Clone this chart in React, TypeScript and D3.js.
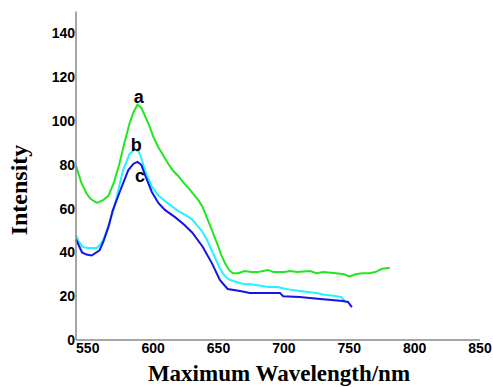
import React from "react";
import * as d3 from "d3";

const xTicks = [550, 600, 650, 700, 750, 800, 850];
const yTicks = [0, 20, 40, 60, 80, 100, 120, 140];

const seriesA: [number, number][] = [
  [541, 79.5], [545, 72], [549, 67], [552, 64.5], [557, 62.6], [562, 64], [566, 66], [570, 72],
  [574, 80], [578, 90], [582, 99], [585, 104], [588, 107.5], [591, 106], [594, 102], [597, 98],
  [600, 93], [604, 88], [608, 84], [612, 80], [615, 77.5], [619, 75], [623, 72], [627, 69.5],
  [631, 66.5], [635, 63.5], [638, 60.5], [641, 56], [644, 51.6], [647, 47], [649, 44], [652, 39],
  [655, 35], [658, 32], [661, 30.5], [665, 30.5], [670, 31.5], [675, 31], [680, 31], [684, 31.5],
  [688, 32], [692, 31], [700, 31], [705, 31.5], [710, 31], [720, 31.5], [725, 30.5], [730, 31],
  [740, 30.5], [746, 30], [750, 29], [755, 30], [760, 30.5], [765, 30.5], [770, 31], [775, 32.5],
  [781, 33],
];

const seriesB: [number, number][] = [
  [541, 48], [543, 45], [546, 42.5], [550, 42], [554, 42], [557, 42], [560, 44], [562, 46],
  [565.5, 51.6], [569, 58], [572, 65], [577, 77.6], [582, 85], [586, 87], [589, 86], [591, 83],
  [594, 77], [599, 70], [604, 66], [611, 62.6], [619, 59], [625, 57], [630, 55], [634, 52],
  [637, 50], [641, 46], [644, 42], [647, 38], [650, 34], [653, 30.6],
  [656, 28.5], [659, 27.4], [664, 26.5], [669, 25.6], [675, 25.5], [680, 25], [688, 24.2],
  [695, 24.2], [700, 23.5], [705, 23], [712, 22.4], [720, 21.8], [725, 21.5], [730, 20.8],
  [738, 20.2], [744, 19.6], [747, 17.4],
];

const seriesC: [number, number][] = [
  [541, 46], [545.6, 40], [549, 39], [553, 38.6], [559, 41], [562, 45], [566, 52], [569, 59],
  [575, 68.5], [581, 77.6], [585, 80.5], [588, 81.3], [591, 80], [594, 75], [599, 67.6],
  [604, 62.6], [609, 59.4], [617, 56], [624, 52.5], [630, 49],
  [638, 42.5], [645, 35], [651, 27.4], [657, 23.3], [666.5, 22.4], [674, 21.5], [690, 21.5],
  [697, 21.5], [699.4, 20], [712, 19.6], [728, 18.7], [745, 17.8], [749, 17.4], [752, 15],
];

const labels = [
  { text: "a", wl: 589, val: 111 },
  { text: "b", wl: 587, val: 89 },
  { text: "c", wl: 590, val: 75 },
];

export default function App() {
  const W = 493, H = 387;
  const x = d3.scaleLinear().domain([541, 850]).range([76, 480]);
  const y = d3.scaleLinear().domain([0, 150]).range([340, 11.5]);
  const line = d3.line<[number, number]>().x(d => x(d[0])).y(d => y(d[1]));
  const tickFont = "'Liberation Sans', Arial, sans-serif";
  const titleFont = "'Liberation Serif', 'Times New Roman', serif";
  return (
    <svg width={W} height={H} style={{ position: "absolute", left: 0, top: 0, background: "#fff" }}>
      <path d={line(seriesA) || ""} fill="none" stroke="#22e622" strokeWidth={2} />
      <path d={line(seriesB) || ""} fill="none" stroke="#22f4ff" strokeWidth={2} />
      <path d={line(seriesC) || ""} fill="none" stroke="#1414e6" strokeWidth={2} />
      <line x1={76} x2={76} y1={y(150)} y2={y(0)} stroke="#888" strokeWidth={1.5} />
      <line x1={76} x2={480} y1={y(0)} y2={y(0)} stroke="#888" strokeWidth={1.5} />
      {yTicks.map(t => (
        <text key={t} x={75} y={y(t)} dy="0.35em" textAnchor="end" fontFamily={tickFont}
          fontWeight="bold" fontSize={14} fill="#000">{t}</text>
      ))}
      {xTicks.map(t => (
        <text key={t} x={x(t)} y={353} textAnchor="middle" fontFamily={tickFont}
          fontWeight="bold" fontSize={14} fill="#000">{t}</text>
      ))}
      {labels.map(l => (
        <text key={l.text} x={x(l.wl)} y={y(l.val)} dy="0.35em" textAnchor="middle"
          fontFamily={tickFont} fontWeight="bold" fontSize={18} fill="#000">{l.text}</text>
      ))}
      <text x={279} y={381} textAnchor="middle" fontFamily={titleFont} fontWeight="bold"
        fontSize={23} fill="#000">Maximum Wavelength/nm</text>
      <text transform="translate(27,190) rotate(-90)" textAnchor="middle" fontFamily={titleFont}
        fontWeight="bold" fontSize={24} fill="#000">Intensity</text>
    </svg>
  );
}
